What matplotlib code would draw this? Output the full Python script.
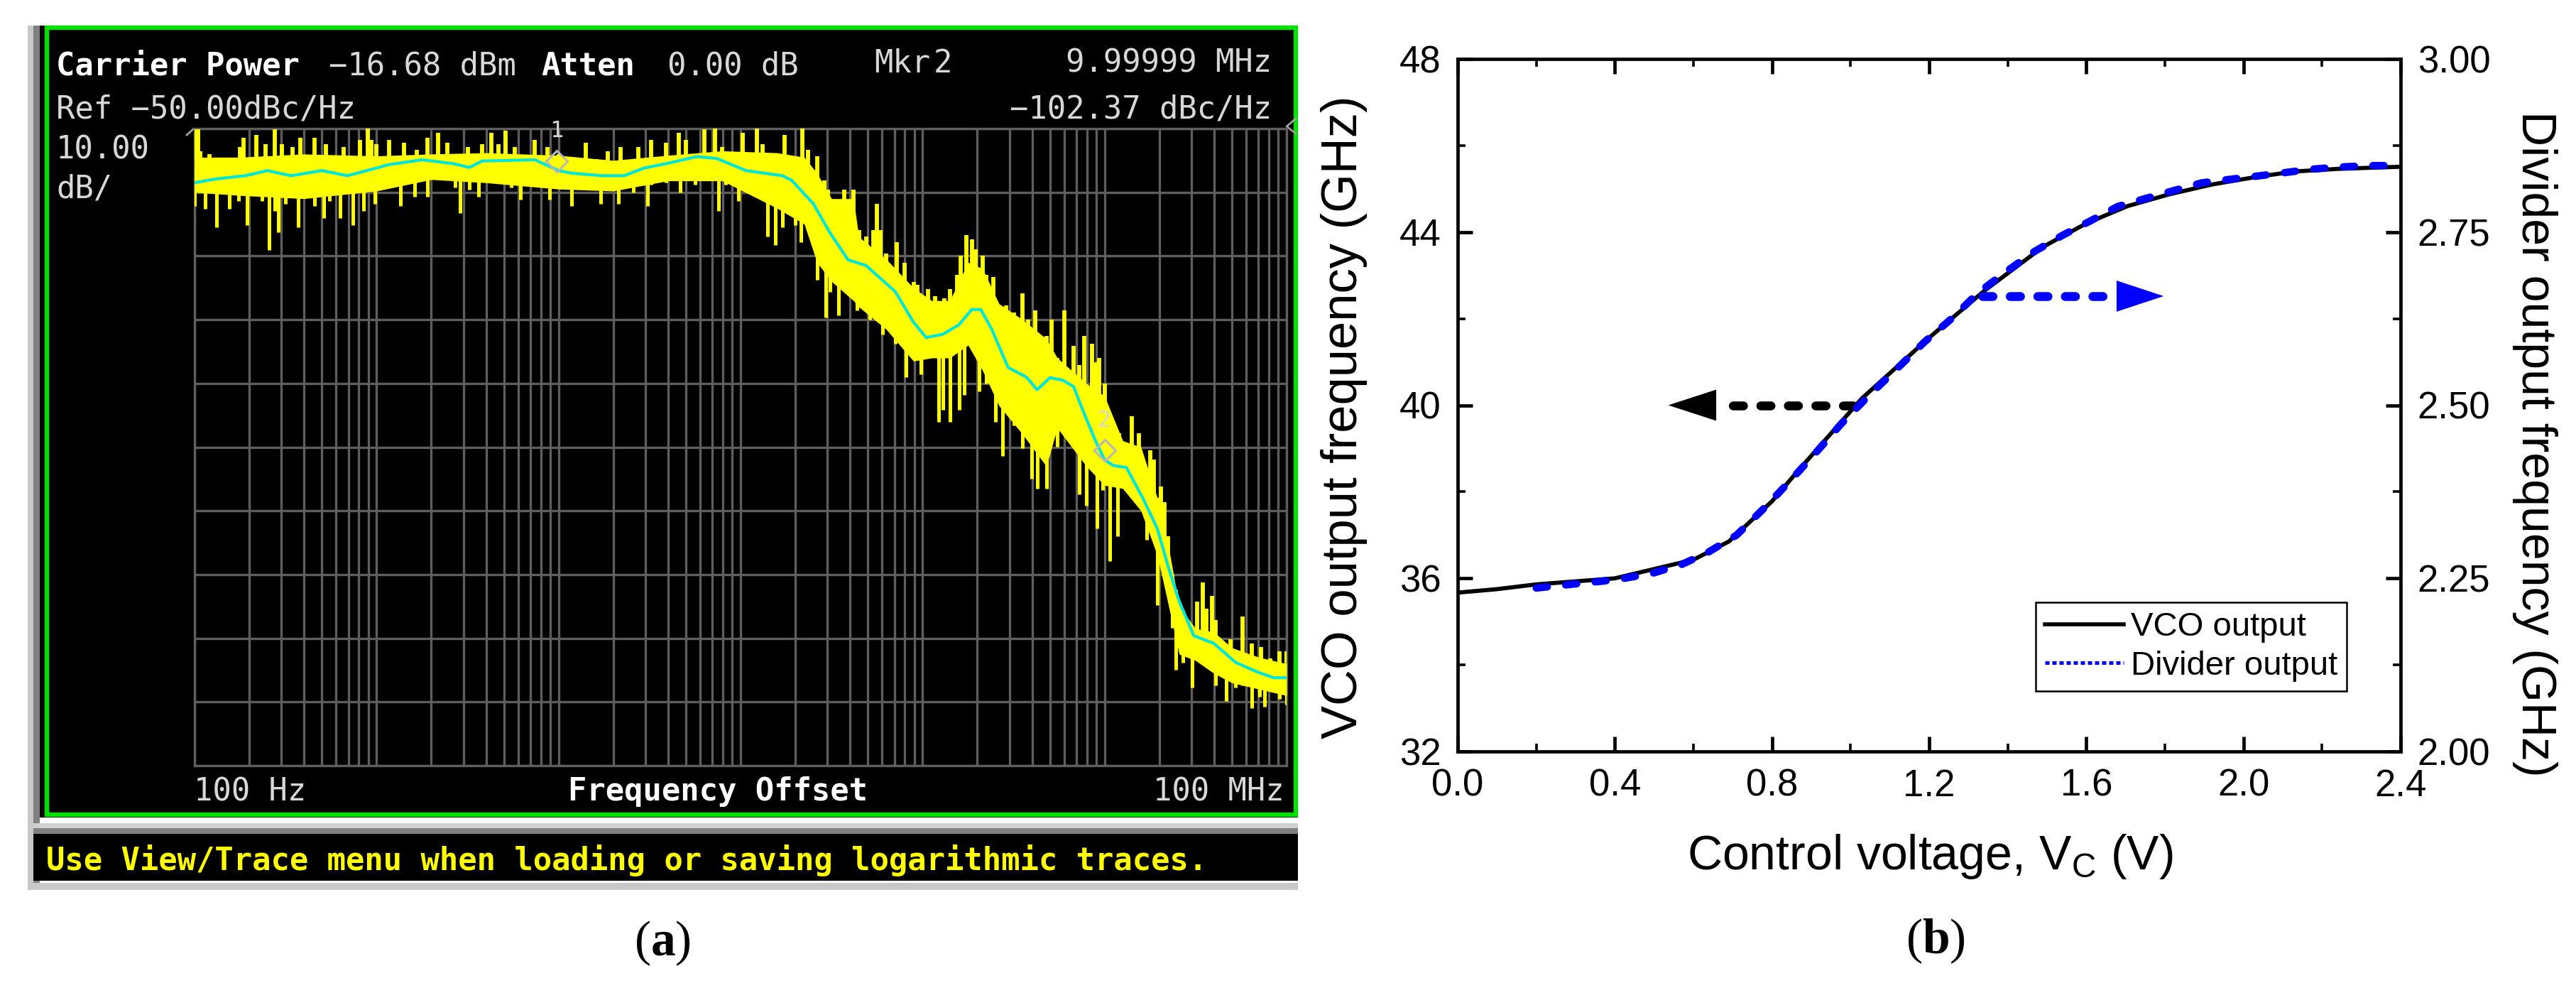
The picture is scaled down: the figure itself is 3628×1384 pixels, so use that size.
import numpy as np
import matplotlib
matplotlib.use("Agg")
import matplotlib.pyplot as plt
from matplotlib.lines import Line2D
from matplotlib.patches import Rectangle
from matplotlib.ticker import LogLocator, MultipleLocator, NullFormatter

plt.rcParams['font.family'] = ['Liberation Sans', 'DejaVu Sans']
plt.rcParams['mathtext.fontset'] = 'custom'
plt.rcParams['mathtext.rm'] = 'Liberation Serif'
plt.rcParams['mathtext.bf'] = 'Liberation Serif:bold'
plt.rcParams['mathtext.sf'] = 'Liberation Sans'

# ---- panel a: phase noise trace, x in log10(Hz), y in dBc/Hz ----
# tips of the raw trace peaks
upper_logf = [2.00, 2.02, 2.03, 2.08, 2.12, 2.17, 2.20, 2.25, 2.27, 2.34, 2.39, 2.44, 2.48, 2.54, 2.58, 2.66,
              2.72, 2.82, 2.91, 2.95, 2.97, 3.00, 3.04, 3.07, 3.15, 3.22, 3.28, 3.34, 3.39, 3.43, 3.50, 3.58,
              3.63, 3.67, 3.71, 3.76, 3.87, 3.94, 4.00, 4.07, 4.15, 4.21, 4.27, 4.34, 4.44, 4.51, 4.59, 4.66,
              4.70, 4.80, 4.86, 4.90, 5.01, 5.09, 5.12, 5.24, 5.27, 5.34, 5.37, 5.42, 5.43, 5.46, 5.48, 5.57,
              5.62, 5.65, 5.69, 5.73, 5.75, 5.77, 5.80, 5.86, 5.90, 5.95, 5.97, 6.03, 6.04, 6.07, 6.12, 6.15,
              6.19, 6.21, 6.24, 6.27, 6.29, 6.33, 6.35, 6.39, 6.43, 6.46, 6.50, 6.55, 6.58, 6.62, 6.68, 6.71,
              6.74, 6.78, 6.80, 6.83, 6.86, 6.89, 6.93, 6.95, 6.97, 7.00, 7.01, 7.05, 7.08, 7.15, 7.19, 7.25,
              7.27, 7.29, 7.31, 7.33, 7.35, 7.37, 7.41, 7.48, 7.51, 7.54, 7.56, 7.59, 7.61, 7.63, 7.69, 7.76,
              7.81, 7.86, 7.91, 7.96, 8.00]
upper_db = [-50.1, -50.1, -53.6, -54.0, -55.1, -57.0, -56.2, -52.9, -51.4, -51.0, -52.5, -50.1, -52.5, -52.9,
            -51.4, -51.4, -52.5, -52.9, -51.8, -50.0, -51.8, -52.5, -55.5, -51.8, -52.2, -53.3, -51.4, -50.7,
            -52.2, -54.8, -52.9, -52.5, -50.7, -52.5, -50.3, -52.9, -51.8, -52.9, -54.0, -55.5, -52.2, -54.8,
            -53.6, -52.9, -52.9, -51.8, -52.2, -50.7, -51.8, -50.1, -50.0, -52.9, -50.7, -50.0, -52.5, -51.0,
            -55.5, -50.0, -53.3, -54.4, -60.0, -58.1, -59.6, -59.6, -59.6, -65.9, -67.0, -65.9, -61.8, -65.9,
            -69.6, -67.8, -71.1, -74.1, -74.5, -75.2, -79.7, -76.3, -76.7, -75.2, -73.0, -70.0, -66.7, -67.4,
            -68.9, -70.0, -73.0, -73.3, -79.7, -77.8, -78.9, -75.9, -80.0, -78.5, -82.6, -80.0, -86.0, -78.5,
            -88.9, -84.1, -87.1, -82.6, -83.8, -86.7, -86.0, -90.0, -102.0, -103.2, -97.8, -95.1, -97.8, -100.5,
            -102.0, -108.0, -106.2, -108.6, -114.0, -120.0, -125.4, -128.4, -124.2, -121.2, -125.4, -123.3,
            -127.2, -130.8, -130.2, -126.6, -130.8, -131.4, -133.2, -132.0, -132.0]
# tips of the raw trace dips
lower_logf = [2.00, 2.03, 2.06, 2.12, 2.19, 2.24, 2.28, 2.29, 2.37, 2.41, 2.44, 2.46, 2.50, 2.57, 2.62, 2.66,
              2.71, 2.74, 2.80, 2.87, 2.93, 2.99, 3.03, 3.07, 3.11, 3.13, 3.16, 3.21, 3.24, 3.28, 3.33, 3.39,
              3.43, 3.46, 3.51, 3.56, 3.65, 3.74, 3.79, 3.89, 3.95, 4.07, 4.16, 4.23, 4.27, 4.33, 4.41, 4.49,
              4.51, 4.59, 4.67, 4.75, 4.82, 4.88, 4.92, 4.99, 5.08, 5.15, 5.19, 5.23, 5.30, 5.33, 5.41, 5.42,
              5.47, 5.49, 5.54, 5.59, 5.64, 5.71, 5.78, 5.85, 5.91, 5.99, 6.03, 6.09, 6.11, 6.15, 6.20, 6.23,
              6.31, 6.35, 6.40, 6.44, 6.50, 6.55, 6.60, 6.63, 6.68, 6.69, 6.74, 6.77, 6.86, 6.90, 6.96, 6.99,
              7.03, 7.07, 7.10, 7.19, 7.23, 7.25, 7.29, 7.32, 7.37, 7.39, 7.43, 7.48, 7.51, 7.57, 7.61, 7.67,
              7.72, 7.76, 7.81, 7.85, 7.88, 7.96, 8.00]
lower_db = [-62.2, -60.0, -62.6, -65.5, -62.6, -61.4, -60.0, -65.2, -61.4, -69.1, -62.9, -66.3, -61.8, -65.5,
            -60.0, -62.2, -64.0, -61.4, -64.0, -65.2, -62.9, -61.8, -57.0, -59.2, -58.5, -62.2, -58.5, -60.7,
            -57.7, -60.7, -57.0, -57.0, -59.2, -63.3, -59.6, -60.7, -58.5, -59.2, -61.1, -58.5, -61.1, -62.2,
            -58.5, -61.8, -59.2, -61.8, -60.0, -62.2, -58.8, -58.5, -60.0, -58.8, -56.2, -62.9, -58.8, -61.4,
            -60.0, -67.0, -68.3, -65.5, -65.2, -67.8, -68.1, -73.7, -79.7, -75.6, -79.3, -74.8, -78.5, -80.0,
            -82.3, -83.8, -89.0, -88.6, -84.5, -96.0, -94.2, -96.0, -94.2, -91.8, -91.2, -90.0, -96.0, -101.4,
            -96.6, -100.2, -105.0, -106.5, -106.5, -93.6, -99.9, -93.6, -107.4, -109.2, -112.8, -106.8, -117.9,
            -114.0, -104.4, -108.6, -114.6, -109.2, -124.8, -116.4, -128.4, -135.0, -133.8, -137.7, -132.0,
            -134.1, -137.4, -139.8, -137.7, -137.4, -141.0, -139.2, -140.7, -139.5, -140.4]
# solid band of the raw trace
core_logf = [2.00, 2.25, 2.60, 3.00, 3.30, 3.60, 4.00, 4.30, 4.60, 4.90, 5.20, 5.35, 5.42, 5.50, 5.62, 5.65, 5.80,
             5.95, 6.05, 6.15, 6.25, 6.33, 6.42, 6.55, 6.68, 6.74, 6.90, 7.00, 7.10, 7.20, 7.29, 7.36, 7.41, 7.50,
             7.60, 7.70, 7.85, 8.00]
core_top = [-54.5, -54.5, -54.0, -54.3, -54.0, -53.8, -54.2, -55.0, -54.2, -53.5, -53.8, -54.5, -57.0, -61.0,
            -61.0, -67.0, -70.5, -75.0, -77.0, -77.0, -71.0, -72.0, -77.5, -80.0, -83.0, -86.0, -90.0, -92.0,
            -99.0, -100.0, -108.0, -117.0, -125.0, -128.5, -129.0, -131.5, -133.0, -134.0]
core_bottom = [-60.0, -60.5, -61.0, -59.8, -58.0, -58.5, -59.5, -59.8, -58.2, -58.2, -62.5, -65.0, -71.0, -74.0,
               -77.0, -78.0, -81.5, -86.5, -86.0, -86.0, -84.0, -88.0, -93.5, -98.0, -103.0, -97.0, -103.0,
               -106.0, -106.5, -110.0, -117.0, -126.0, -132.5, -133.5, -135.5, -137.0, -138.0, -139.0]
avg_logf = [2.00, 2.12, 2.28, 2.40, 2.53, 2.70, 2.84, 3.00, 3.06, 3.25, 3.42, 3.51, 3.58, 3.87, 4.00, 4.07, 4.24,
            4.36, 4.47, 4.61, 4.76, 4.87, 5.03, 5.23, 5.28, 5.40, 5.49, 5.59, 5.69, 5.85, 5.95, 6.02, 6.11, 6.20,
            6.27, 6.32, 6.38, 6.47, 6.57, 6.63, 6.70, 6.77, 6.83, 6.88, 6.95, 7.00, 7.05, 7.12, 7.21, 7.29, 7.35,
            7.41, 7.49, 7.60, 7.72, 7.84, 7.93, 8.00]
avg_db = [-58.5, -57.9, -57.4, -56.6, -57.4, -56.6, -57.4, -56.2, -55.7, -54.9, -55.5, -56.1, -55.1, -54.9, -56.6,
          -57.0, -57.4, -57.4, -56.2, -55.4, -54.4, -54.7, -56.6, -57.4, -58.1, -61.8, -66.3, -70.6, -71.5, -75.6,
          -80.4, -82.8, -82.3, -80.8, -78.4, -78.4, -81.5, -87.5, -89.0, -91.0, -89.1, -89.5, -90.5, -94.2, -99.0,
          -102.0, -102.9, -103.2, -108.0, -112.8, -118.8, -124.2, -129.6, -130.8, -133.8, -135.3, -136.2, -136.2]
marker_logf = [3.99, 7.00]
marker_db = [-55.1, -100.5]
marker_names = ['1', '2']

# ---- panel b: tuning curves ----
vco_v = [0.0, 0.1, 0.2, 0.4, 0.6, 0.69, 0.8, 0.861, 1.028, 1.2, 1.34, 1.49, 1.6, 1.705, 1.81, 1.92, 2.03, 2.13,
         2.24, 2.4]
vco_f = [35.67, 35.75, 35.86, 36.0, 36.43, 36.85, 37.78, 38.43, 40.15, 41.56, 42.64, 43.66, 44.2, 44.6, 44.87,
         45.1, 45.27, 45.4, 45.46, 45.51]
div_v = [0.2, 0.283, 0.37, 0.424, 0.497, 0.57, 0.637, 0.71, 0.783, 0.849, 0.914, 0.976, 1.044, 1.115, 1.1875,
         1.257, 1.325, 1.395, 1.468, 1.54, 1.61, 1.68, 1.754, 1.823, 1.893, 1.963, 2.037, 2.107, 2.177, 2.246,
         2.32, 2.4]
div_f = [2.236, 2.241, 2.246, 2.25, 2.2575, 2.27, 2.2875, 2.3125, 2.353, 2.3925, 2.433, 2.473, 2.5125, 2.551,
         2.591, 2.625, 2.6625, 2.6925, 2.722, 2.7455, 2.766, 2.787, 2.799, 2.81, 2.821, 2.826, 2.831, 2.836,
         2.841, 2.844, 2.846, 2.846]

W, H = 3628, 1384
fig = plt.figure(figsize=(W / 100, H / 100), dpi=100, facecolor='white')


def px_axes(x0, y0, x1, y1):
    # axes box given in image pixels (y from the top)
    return fig.add_axes([x0 / W, 1 - y1 / H, (x1 - x0) / W, (y1 - y0) / H])


# page layer in pixel coordinates for the screenshot frame and captions
page = fig.add_axes([0, 0, 1, 1])
page.set_xlim(0, W)
page.set_ylim(H, 0)
page.axis('off')

page.add_patch(Rectangle((39, 36), 8, 1217, fc='#c8c8c8', ec='none'))
page.add_patch(Rectangle((47, 36), 9, 1217, fc='#808080', ec='none'))
page.add_patch(Rectangle((56, 36), 1772, 1115, fc='black', ec='none'))
page.add_patch(Rectangle((66, 38.5), 1759, 1108.5, fc='black', ec='#00e000', lw=4.6))
page.add_patch(Rectangle((47, 1159), 1781, 7, fc='#d0d0d0', ec='none'))
page.add_patch(Rectangle((47, 1166), 1781, 8, fc='#808080', ec='none'))
page.add_patch(Rectangle((47, 1174), 1781, 66, fc='black', ec='none'))
page.add_patch(Rectangle((47, 1243), 1781, 10, fc='#c8c8c8', ec='none'))

mono = ['DejaVu Sans Mono']
scr = dict(family=mono, fontsize=31.6, va='baseline', color='#d8d8d8')
page.text(79, 105, 'Carrier Power', fontweight='bold', **{**scr, 'color': 'white'})
page.text(463, 105, '−16.68 dBm', **scr)
page.text(762, 105, 'Atten', fontweight='bold', **{**scr, 'color': 'white'})
page.text(940, 105, '0.00 dB', **scr)
page.text(1231, 102, 'Mkr', **scr)
page.text(1315, 102, '2', **scr)
page.text(1791, 102, '9.99999 MHz', ha='right', **scr)
page.text(79, 167, 'Ref −50.00dBc/Hz', **scr)
page.text(1791, 167, '−102.37 dBc/Hz', ha='right', **scr)
page.text(79, 223, '10.00', **scr)
page.text(79, 278, 'dB/', **scr)
page.text(273, 1127, '100 Hz', **scr)
page.text(1011, 1127, 'Frequency Offset', ha='center', fontweight='bold', **{**scr, 'color': 'white'})
page.text(1809, 1127, '100 MHz', ha='right', **scr)
page.text(65, 1225, 'Use View/Trace menu when loading or saving logarithmic traces.', fontweight='bold',
          **{**scr, 'color': '#ffff00'})
# reference-level pointers at the graticule corners
page.plot([1825, 1812, 1825], [167, 178, 188], color='#a0a0a0', lw=2)
page.plot([263, 272], [190, 182], color='#a0a0a0', lw=2)

page.text(933, 1345, r'$\mathrm{(}\mathbf{a}\mathrm{)}$', ha='center', va='baseline', fontsize=50, color='black')
page.text(2726, 1342, r'$\mathrm{(}\mathbf{b}\mathrm{)}$', ha='center', va='baseline', fontsize=50, color='black')

# ---- panel a ----
ax_a = px_axes(274, 181, 1812, 1078)
ax_a.set_facecolor('black')
ax_a.set_xscale('log')
ax_a.set_xlim(1e2, 1e8)
ax_a.set_ylim(-150, -50)
ax_a.xaxis.set_major_locator(LogLocator(base=10, numticks=10))
ax_a.xaxis.set_minor_locator(LogLocator(base=10, subs=range(2, 10), numticks=10))
ax_a.xaxis.set_minor_formatter(NullFormatter())
ax_a.yaxis.set_major_locator(MultipleLocator(10))
ax_a.grid(which='both', axis='x', color='#5e5e5e', lw=2.4)
ax_a.grid(which='major', axis='y', color='#5e5e5e', lw=2.4)
ax_a.set_axisbelow(True)
ax_a.tick_params(which='both', length=0, labelbottom=False, labelleft=False)
for s in ax_a.spines.values():
    s.set_color('#5e5e5e')
    s.set_linewidth(2.4)

# raw trace: solid band plus one needle per peak and per dip, each needle runs back to the average line
ax_a.fill_between(10 ** np.array(core_logf), core_top, core_bottom, color='#ffff00', lw=0, zorder=3)
ax_a.vlines(10 ** np.array(upper_logf), upper_db, np.interp(upper_logf, avg_logf, avg_db), color='#ffff00', lw=4.2,
            zorder=3)
ax_a.vlines(10 ** np.array(lower_logf), lower_db, np.interp(lower_logf, avg_logf, avg_db), color='#ffff00', lw=3.6,
            zorder=3)
ax_a.plot(10 ** np.array(avg_logf), avg_db, color='#00e6dc', lw=3.0, zorder=4)
ax_a.plot(10 ** np.array(marker_logf), marker_db, ls='none', marker='D', ms=15, mfc='none', mec='#b8b8b8',
          mew=2.2, zorder=5)
for lf, db, name in zip(marker_logf, marker_db, marker_names):
    ax_a.annotate(name, (10 ** lf, db), xytext=(0, 19), textcoords='offset points', ha='center', va='bottom',
                  family=mono, fontsize=23, color='#d8d8d8', zorder=6)

# ---- panel b ----
ax_b = px_axes(2053, 83, 3381, 1058)
ax_b.set_xlim(0, 2.4)
ax_b.set_ylim(32, 48)
ax_b.xaxis.set_major_locator(MultipleLocator(0.4))
ax_b.xaxis.set_minor_locator(MultipleLocator(0.2))
ax_b.yaxis.set_major_locator(MultipleLocator(4))
ax_b.yaxis.set_minor_locator(MultipleLocator(2))
ax_b.xaxis.set_major_formatter(lambda v, _: f'{v:.1f}')
ax_b.tick_params(which='both', direction='in', top=True, labelsize=38)
ax_b.tick_params(which='major', length=15, width=3.4)
ax_b.tick_params(which='minor', length=8, width=2.6)
ax_b.tick_params(axis='x', which='major', pad=17)
ax_b.tick_params(axis='y', which='major', pad=17)
for s in ax_b.spines.values():
    s.set_linewidth(3.4)
ax_b.set_xlabel('Control voltage, V$_{\\mathsf{C}}$ (V)', fontsize=49, va='baseline', ha='center')
ax_b.xaxis.set_label_coords(2718, 1224, transform=page.transData)
ax_b.set_ylabel('VCO output frequency (GHz)', fontsize=50.8, va='center', ha='center')
ax_b.yaxis.set_label_coords(1893, 587, transform=page.transData)

ax_r = ax_b.twinx()
ax_r.set_ylim(2.0, 3.0)
ax_r.yaxis.set_major_locator(MultipleLocator(0.25))
ax_r.yaxis.set_minor_locator(MultipleLocator(0.125))
ax_r.yaxis.set_major_formatter(lambda v, _: f'{v:.2f}')
ax_r.tick_params(which='both', direction='in', labelsize=38)
ax_r.tick_params(which='major', length=15, width=3.4, pad=17)
ax_r.tick_params(which='minor', length=8, width=2.6)
ax_r.set_ylabel('Divider output frequency (GHz)', fontsize=49, rotation=270, va='center', ha='center')
ax_r.yaxis.set_label_coords(3570, 625, transform=page.transData)

ax_b.plot(vco_v, vco_f, color='black', lw=4.2, solid_capstyle='butt', clip_on=True)
ax_r.plot(div_v, div_f, color='#0000ff', lw=7.5, ls=(0, (1.5, 2.5)), dash_capstyle='round')

# direction arrows
ax_b.plot([1.007, 0.675], [40, 40], color='black', lw=9, ls=(0, (1.15, 1.95)), dash_capstyle='round')
ax_b.fill([0.658, 0.658, 0.536], [40.36, 39.64, 40], color='black', lw=0)
ax_b.plot([1.335, 1.665], [42.52, 42.52], color='#0000ff', lw=9, ls=(0, (1.15, 1.95)), dash_capstyle='round')
ax_b.fill([1.677, 1.677, 1.797], [42.88, 42.16, 42.52], color='#0000ff', lw=0)

handles = [Line2D([], [], color='black', lw=4),
           Line2D([], [], color='#0000ff', lw=3.6, ls=(0, (1.2, 0.8)))]
leg = ax_b.legend(handles, ['VCO output', 'Divider output'], fontsize=34, frameon=True, fancybox=False,
                  edgecolor='black', framealpha=1, loc='lower left',
                  bbox_to_anchor=((2867 - 2053) / 1328, (1058 - 973) / 975),
                  borderaxespad=0, borderpad=0.28, labelspacing=0.22, handlelength=2.35, handletextpad=0.2)
leg.get_frame().set_linewidth(1.8)
leg.set_zorder(10)

fig.savefig('out.png', dpi=100, facecolor='white')
